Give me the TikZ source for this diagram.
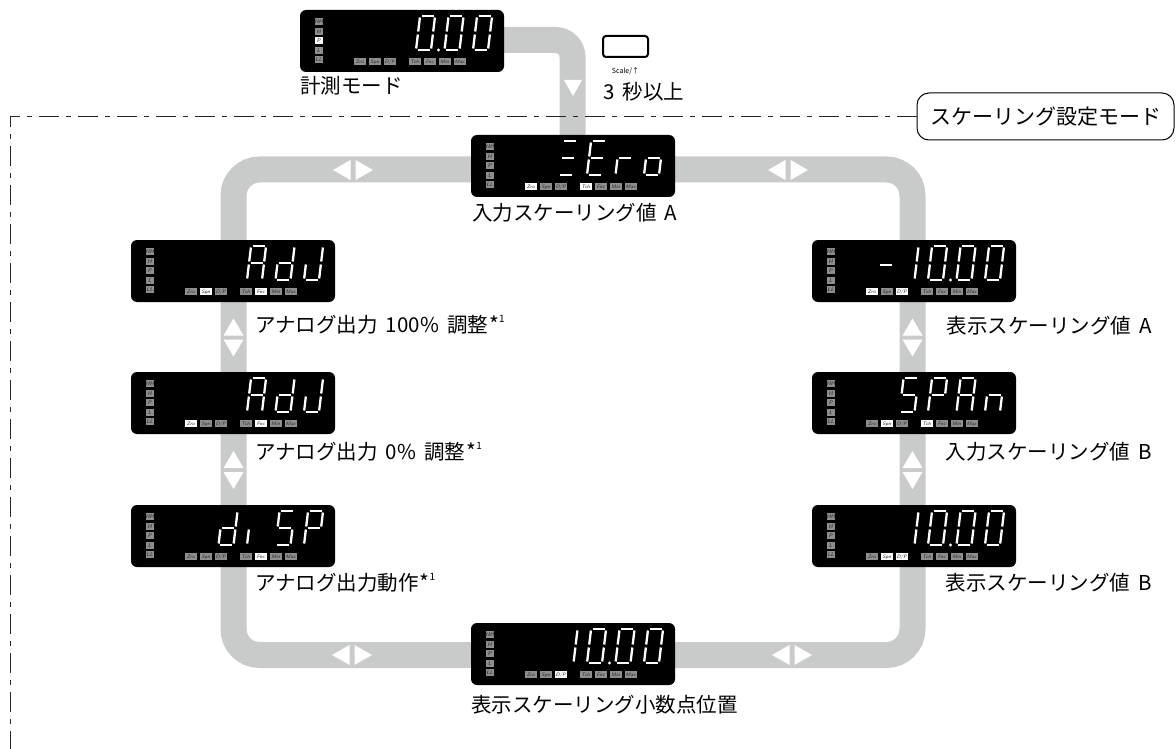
\documentclass[tikz,border=0pt]{standalone}
\usepackage{fontspec}
\setmainfont{Noto Sans CJK JP}
\definecolor{trackgray}{HTML}{C9CACA}
\definecolor{indgray}{HTML}{8E8E8E}
\def\DPlab{D/P}
\makeatletter
\newcommand\ishl[2]{\edef\hl@tmp{\noexpand\in@{,#1,}{,#2,}}\hl@tmp}
% display box: name, x0, y0, left highlight list, bottom highlight list
\newcommand\dispbox[5]{%
  \node[disp] (#1) at ({#2+102},{#3+31}) {};
  \begin{scope}[shift={(#1.north west)}]
  \foreach \lab/\yy in {HH/12,H/21.5,P/31,L/40.5,LL/50}{%
    \ishl{\lab}{#4}%
    \ifin@\def\fc{white}\else\def\fc{indgray}\fi
    \node[indl,fill=\fc] (#1-\lab) at (19,\yy) {\lab};}
  \foreach \key/\lab/\xx in {Zro/Zro/60,Spn/Spn/75,DP/\DPlab/90,Tch/Tch/115,Fnc/Fnc/130,Min/Min/145,Max/Max/160}{%
    \ishl{\key}{#5}%
    \ifin@\def\fc{white}\else\def\fc{indgray}\fi
    \node[indb,fill=\fc] (#1-\key) at (\xx,52) {\lab};}
  \end{scope}}
% seven segment character: x, y of bottom-left, segment list
\newcommand\sev[3]{%
  \begin{scope}[shift={({#1},{#2})},y=1pt,xslant=0.12]
  \ishl{a}{#3}\ifin@\draw[seg] (1.5,34)--(13.5,34);\fi
  \ishl{b}{#3}\ifin@\draw[seg] (15,32.5)--(15,18.5);\fi
  \ishl{c}{#3}\ifin@\draw[seg] (15,15.5)--(15,1.5);\fi
  \ishl{d}{#3}\ifin@\draw[seg] (1.5,0)--(13.5,0);\fi
  \ishl{e}{#3}\ifin@\draw[seg] (0,1.5)--(0,15.5);\fi
  \ishl{f}{#3}\ifin@\draw[seg] (0,18.5)--(0,32.5);\fi
  \ishl{g}{#3}\ifin@\draw[seg] (1.5,17)--(13.5,17);\fi
  \end{scope}}
\makeatother
% character in cell k of display at x0,y0
\newcommand\dch[4]{\sev{#1+173-(3-#3)*28.5}{#2+40}{#4}}
\newcommand\dpt[3]{\fill[white] ({#1+167-(3-#3)*28.5},{#2+40}) circle[radius=1.7pt];}
\newcommand\lrarr[2]{%
  \fill[white] ({#1-20},{#2}) -- ({#1-2.5},{#2-10}) -- ({#1-2.5},{#2+10}) -- cycle;
  \fill[white] ({#1+20},{#2}) -- ({#1+2.5},{#2-10}) -- ({#1+2.5},{#2+10}) -- cycle;}
\newcommand\udarr[2]{%
  \fill[white] ({#1},{#2-19}) -- ({#1-10},{#2-2}) -- ({#1+10},{#2-2}) -- cycle;
  \fill[white] ({#1},{#2+19}) -- ({#1-10},{#2+2}) -- ({#1+10},{#2+2}) -- cycle;}
\def\sgZ{a,g,d}
\def\sgE{a,d,e,f,g}
\def\sgr{e,g}
\def\sgo{c,d,e,g}
\def\sgA{a,b,c,e,f,g}
\def\sgd{b,c,d,e,g}
\def\sgJ{b,c,d,e}
\def\sgi{e}
\def\sgS{a,c,d,f,g}
\def\sgP{a,b,e,f,g}
\def\sgn{c,e,g}
\def\sgzero{a,b,c,d,e,f}
\def\sgone{b,c}
\newcommand\fnm{\hspace{1pt}{\fontsize{21}{21}\selectfont *}\raisebox{.5em}{\fontsize{10}{10}\selectfont 1}}
\newcommand\wsp{\hspace{.4em}}
\begin{document}
\begin{tikzpicture}[x=1pt,y=-1pt,
  track/.style={draw=trackgray, line width=26pt},
  disp/.style={fill=black, rounded corners=6pt, minimum width=204pt, minimum height=62pt, inner sep=0pt, draw=none},
  seg/.style={draw=white, line width=2.3pt},
  indl/.style={inner sep=0pt, minimum width=8pt, minimum height=7pt, text=black!85, font=\sffamily\itshape\fontsize{5.5}{6}\selectfont},
  indb/.style={inner sep=0pt, minimum width=12pt, minimum height=7pt, text=black!85, font=\sffamily\itshape\fontsize{5}{6}\selectfont},
  lab/.style={inner sep=0pt, font=\fontsize{20.5}{24}\selectfont},
  modebox/.style={draw, line width=1pt, rounded corners=12pt, minimum width=257pt, minimum height=47pt, inner sep=0pt, font=\fontsize{21}{24}\selectfont},
  frame/.style={draw=black!85, line width=0.9pt, dash pattern=on 20pt off 7pt on 5pt off 7pt},
  btn/.style={draw, line width=2pt, rounded corners=3pt, minimum width=45pt, minimum height=21pt, inner sep=0pt}]
\useasboundingbox (0,0) rectangle (1176,749);
% tracks
\draw[track, rounded corners=26pt] (233.5,169.5) rectangle (912.5,655);
\draw[track, rounded corners=17pt] (480,40) -- (572.5,40) -- (572.5,180);
% frame
\node[modebox] (mode) at (1045.5,116.5) {スケーリング設定モード};
\coordinate (fc) at (10,116.5);
\coordinate (fb) at (10,752);
\draw[frame] (mode.west) -- (fc) -- (fb);
% displays
\dispbox{top}{300}{10}{P}{}
\dch{300}{10}{1}{\sgzero}\dpt{300}{10}{2}\dch{300}{10}{2}{\sgzero}\dch{300}{10}{3}{\sgzero}
\dispbox{zero}{471}{135}{}{Zro,Tch}
\dch{471}{135}{0}{\sgZ}\dch{471}{135}{1}{\sgE}\dch{471}{135}{2}{\sgr}\dch{471}{135}{3}{\sgo}
\dispbox{adjh}{131}{240}{}{Spn,Fnc}
\dch{131}{240}{1}{\sgA}\dch{131}{240}{2}{\sgd}\dch{131}{240}{3}{\sgJ}
\dispbox{adjz}{131}{372}{}{Zro,Fnc}
\dch{131}{372}{1}{\sgA}\dch{131}{372}{2}{\sgd}\dch{131}{372}{3}{\sgJ}
\dispbox{disp}{131}{505}{}{Fnc}
\dch{131}{505}{0}{\sgd}\dch{131}{505}{1}{\sgi}\dch{131}{505}{2}{\sgS}\dch{131}{505}{3}{\sgP}
\dispbox{neg}{812}{240}{}{Zro,DP}
\draw[seg] (880,265) -- (892,265);
\dch{812}{240}{0}{\sgone}\dch{812}{240}{1}{\sgzero}\dpt{812}{240}{2}\dch{812}{240}{2}{\sgzero}\dch{812}{240}{3}{\sgzero}
\dispbox{span}{812}{372}{}{Spn,Tch}
\dch{812}{372}{0}{\sgS}\dch{812}{372}{1}{\sgP}\dch{812}{372}{2}{\sgA}\dch{812}{372}{3}{\sgn}
\dispbox{ten}{812}{505}{}{Spn,DP}
\dch{812}{505}{0}{\sgone}\dch{812}{505}{1}{\sgzero}\dpt{812}{505}{2}\dch{812}{505}{2}{\sgzero}\dch{812}{505}{3}{\sgzero}
\dispbox{dec}{471}{623}{}{DP}
\dch{471}{623}{0}{\sgone}\dch{471}{623}{1}{\sgzero}\dpt{471}{623}{2}\dch{471}{623}{2}{\sgzero}\dch{471}{623}{3}{\sgzero}
% arrows on tracks
\fill[white] (573,96) -- (564,80) -- (582,80) -- cycle;
\lrarr{353}{170}
\lrarr{788}{170}
\lrarr{352}{655}
\lrarr{792}{655}
\udarr{233.5}{337.5}
\udarr{233.5}{470}
\udarr{912.5}{337.5}
\udarr{912.5}{470}
% button
\node[btn] (btn) at (625.5,46.5) {};
\node[inner sep=0pt, font=\fontsize{7}{8}\selectfont] (scl) at (625.5,71) {Scale/↑};
\node[lab, anchor=west] (sec) at (603,91.5) {3\wsp 秒以上};
% labels
\node[lab, anchor=west] (l0) at (300,86) {計測モード};
\node[lab, anchor=west] (l1) at (472,213) {入力スケーリング値\wsp A};
\node[lab, anchor=west] (l2) at (255,325) {アナログ出力\wsp 100\%\wsp 調整\fnm};
\node[lab, anchor=west] (l3) at (255,452) {アナログ出力\wsp 0\%\wsp 調整\fnm};
\node[lab, anchor=west] (l4) at (255,583) {アナログ出力動作\fnm};
\node[lab, anchor=east] (r1) at (1152,326) {表示スケーリング値\wsp A};
\node[lab, anchor=east] (r2) at (1152,452) {入力スケーリング値\wsp B};
\node[lab, anchor=east] (r3) at (1152,583) {表示スケーリング値\wsp B};
\node[lab, anchor=west] (l5) at (471,705) {表示スケーリング小数点位置};
\end{tikzpicture}
\end{document}
